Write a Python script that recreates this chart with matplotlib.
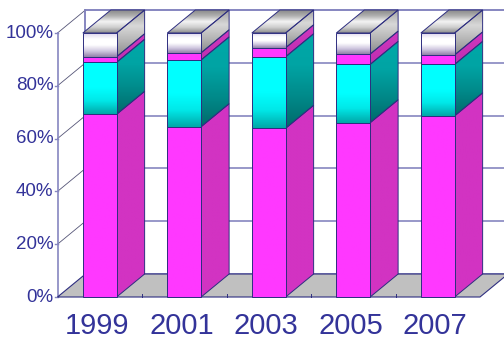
import numpy as np
import matplotlib
matplotlib.use("Agg")
import matplotlib.pyplot as plt
from matplotlib.patches import Polygon
from matplotlib.colors import LinearSegmentedColormap

years = ["1999", "2001", "2003", "2005", "2007"]
seg_main = [69.2, 64.5, 63.9, 66.0, 68.6]     # bottom, magenta
seg_cyan = [19.7, 25.3, 27.1, 22.1, 19.5]
seg_small = [2.1, 2.7, 3.4, 3.9, 3.6]        # thin magenta band
seg_white = [9.0, 7.5, 5.6, 8.0, 8.3]
y_ticks = [0, 20, 40, 60, 80, 100]

series = [seg_main, seg_cyan, seg_small, seg_white]

# face shading per series: (front stops bottom->top, side stops bottom->top)
front_grad = [
    ["#ff38ff", "#ff38ff"],
    ["#00a8a8", "#00e8e8", "#00ffff", "#00ffff", "#00ffff"],
    ["#ff38ff", "#ff38ff"],
    ["#9080a8", "#d0c8e0", "#ffffff", "#ffffff", "#dcd4ec"],
]
side_grad = [
    ["#d233c2", "#d233c2"],
    ["#006a6a", "#008a8a", "#00a4a4", "#00a8a8"],
    ["#c02eb0", "#d038c0"],
    ["#8a8a8a", "#b4b4b4", "#d8d8d8", "#a0a0a0"],
]
top_grad = ["#8c8c8c", "#cfcfcf", "#f4f4f4", "#b0b0b0", "#8a8a8a"]

EDGE = "#2e2e80"
GRID = "#8686c0"
TXT = "#333399"

W = 0.40          # bar width, category units
DX = 0.331        # depth offset, category units
DY = 8.71         # depth offset, percent units
X0, X1 = -0.5, 4.5

fig = plt.figure(figsize=(5.04, 3.42), dpi=100)
ax = fig.add_axes([0, 0, 1, 1])
ax.set_axis_off()


def grad_fill(verts, stops, z, clip=None):
    xs = [v[0] for v in verts]
    ys = [v[1] for v in verts]
    if clip is None:
        clip = Polygon(verts, closed=True, facecolor="none", edgecolor=EDGE,
                       lw=0.7, zorder=z + 0.5)
        ax.add_patch(clip)
    cmap = LinearSegmentedColormap.from_list("g", stops)
    g = np.linspace(0, 1, 128).reshape(-1, 1)
    im = ax.imshow(g, cmap=cmap, extent=(min(xs), max(xs), min(ys), max(ys)),
                   origin="lower", aspect="auto", zorder=z,
                   interpolation="bilinear")
    im.set_clip_path(clip)


# walls and floor
back = Polygon([(X0 + DX, DY), (X1 + DX, DY), (X1 + DX, 100 + DY), (X0 + DX, 100 + DY)],
               closed=True, facecolor="white", edgecolor=GRID, lw=1.2, zorder=0)
ax.add_patch(back)
floor = Polygon([(X0, 0), (X1, 0), (X1 + DX, DY), (X0 + DX, DY)],
                closed=True, facecolor="#c0c0c0", edgecolor=EDGE, lw=0.8, zorder=1)
ax.add_patch(floor)
for v in y_ticks[1:]:
    ax.plot([X0 + DX, X1 + DX], [v + DY, v + DY], color=GRID, lw=1.2, zorder=0.5)
    ax.plot([X0, X0 + DX], [v, v + DY], color="#555577", lw=0.6, zorder=0.5)
ax.plot([X0, X0], [0, 100], color=GRID, lw=1.2, zorder=0.5)
ax.plot([X0 + DX, X0 + DX], [DY, 100 + DY], color=GRID, lw=1.2, zorder=0.5)
for v in y_ticks:
    ax.plot([X0 - 0.03, X0], [v, v], color=GRID, lw=1, zorder=0.5)
    ax.text(X0 - 0.05, v, f"{v}%", ha="right", va="center", fontsize=13.5,
            color=TXT, family=["Liberation Sans", "DejaVu Sans"])
for k in range(1, len(years)):
    ax.plot([k - 0.5, k - 0.5], [0, 1.3], color=EDGE, lw=0.7, zorder=1.5)

# stacked bars: front faces through ax.bar, sides and top as polygons
x = np.arange(len(years))
bottom = np.zeros(len(years))
for s, vals in enumerate(series):
    vals = np.array(vals)
    bars = ax.bar(x, vals, W, bottom=bottom, facecolor="none",
                  edgecolor=EDGE, lw=0.7, zorder=5)
    for i, b in enumerate(bars):
        lo, hi = bottom[i], bottom[i] + vals[i]
        xl, xr = x[i] - W / 2, x[i] + W / 2
        grad_fill([(xl, lo), (xr, lo), (xr, hi), (xl, hi)], front_grad[s], 4, clip=b)
        grad_fill([(xr, lo), (xr + DX, lo + DY), (xr + DX, hi + DY), (xr, hi)],
                  side_grad[s], 3)
    bottom = bottom + vals

for i in x:
    xl, xr = i - W / 2, i + W / 2
    top = bottom[i]
    grad_fill([(xl, top), (xr, top), (xr + DX, top + DY), (xl + DX, top + DY)],
              top_grad, 3)
    ax.text(i - 0.03, -10.8, years[i], ha="center", va="center", fontsize=21,
            color=TXT, family=["Liberation Sans", "DejaVu Sans"])

ax.set_xlim(-1.1805, 4.784)
ax.set_ylim(-17.045, 112.5)
fig.savefig("out.png", dpi=100, facecolor="white")
